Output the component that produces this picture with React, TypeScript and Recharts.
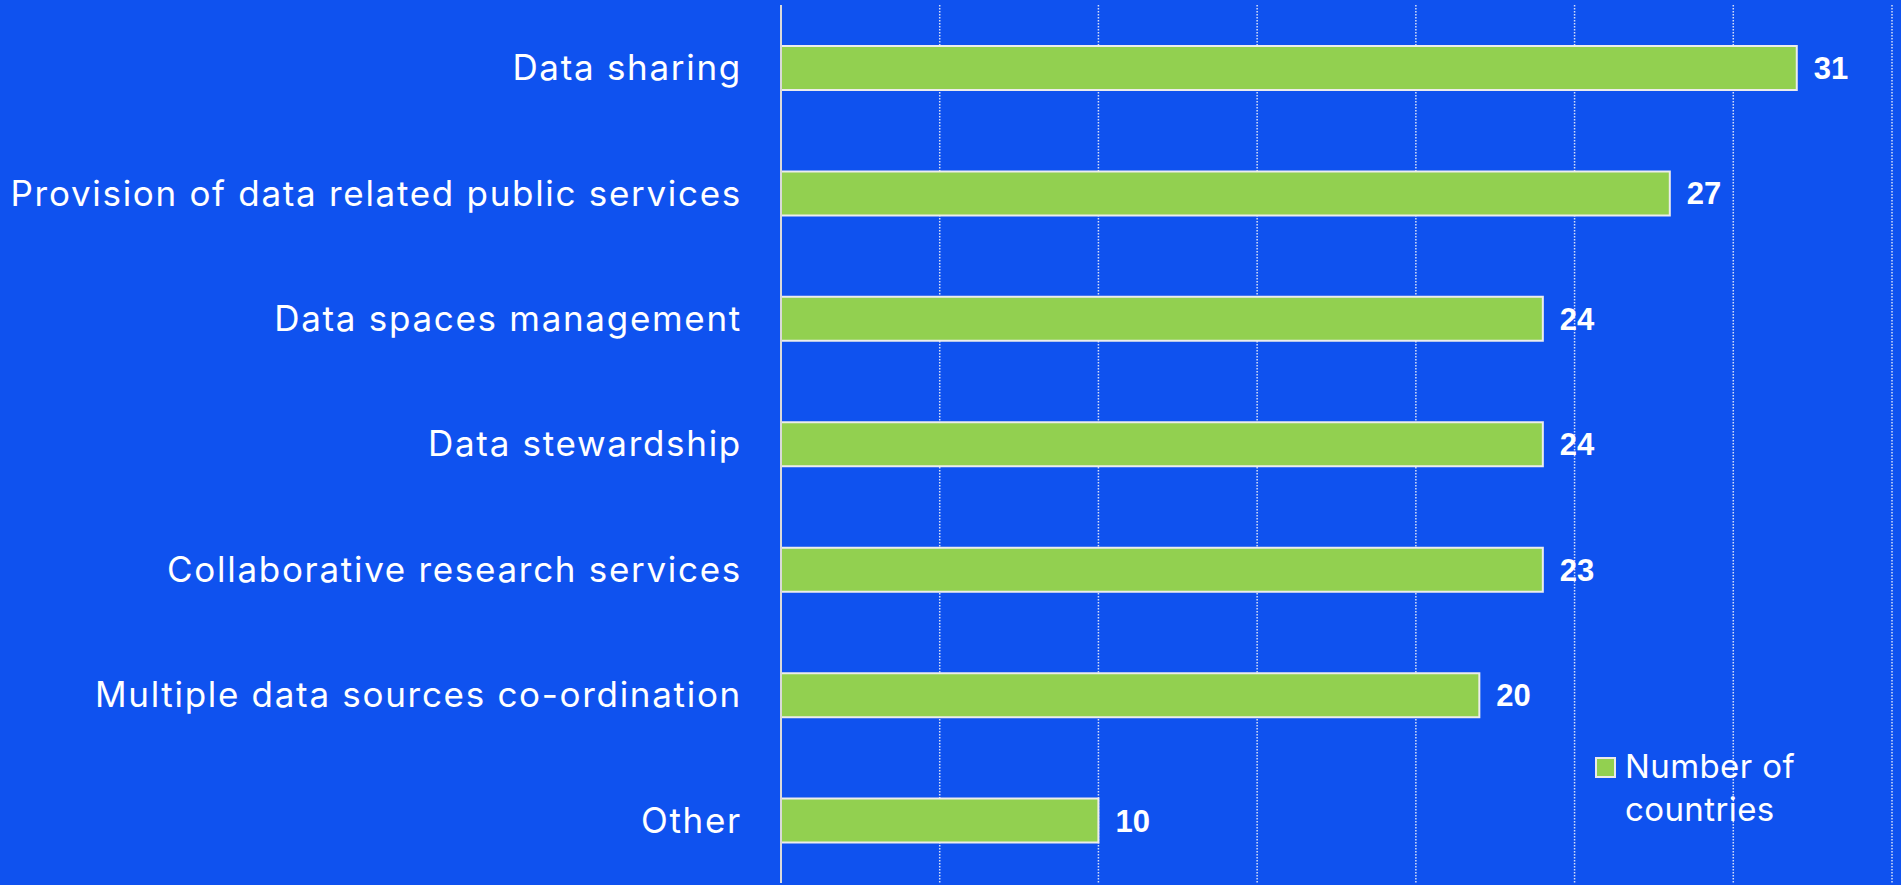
import { BarChart, Bar, XAxis, YAxis, CartesianGrid, Legend, LabelList } from 'recharts'

const categories = [
  'Data sharing',
  'Provision of data related public services',
  'Data spaces management',
  'Data stewardship',
  'Collaborative research services',
  'Multiple data sources co-ordination',
  'Other',
]
// bar lengths as drawn, and the numbers printed next to them
const barValues = [32, 28, 24, 24, 24, 22, 10]
const labelValues = [31, 27, 24, 24, 23, 20, 10]
const xTicks = [0, 5, 10, 15, 20, 25, 30, 35]

const data = categories.map((name, i) => ({ name, value: barValues[i], label: labelValues[i] }))

const BG = '#0F52EF'
const GREEN = '#92D050'
const FONT = 'Inter, Roboto, sans-serif'

function LegendBox() {
  return (
    <div
      style={{
        display: 'flex',
        alignItems: 'flex-start',
        color: '#fff',
        fontFamily: FONT,
        fontSize: 33,
        letterSpacing: 0.4,
        lineHeight: '43px',
      }}
    >
      <span
        style={{
          width: 17,
          height: 17,
          background: GREEN,
          border: '2px solid #eaeaea',
          marginTop: 12,
          marginRight: 9,
          flex: 'none',
        }}
      />
      <span>
        Number of
        <br />
        countries
      </span>
    </div>
  )
}

export default function App() {
  return (
    <div style={{ position: 'fixed', left: 0, top: 0, width: 1901, height: 885, background: BG }}>
      <BarChart
        width={1901}
        height={885}
        data={data}
        layout="vertical"
        barCategoryGap={81}
        margin={{ top: 5, right: 9, left: 0, bottom: 2 }}
      >
        <CartesianGrid horizontal={false} stroke="#d6def8" strokeDasharray="1.5 1.5" strokeWidth={1.5} />
        <XAxis type="number" domain={[0, 35]} ticks={xTicks} hide />
        <YAxis
          type="category"
          dataKey="name"
          width={781}
          tickLine={false}
          tickMargin={33}
          axisLine={{ stroke: '#d9d9d9', strokeWidth: 2 }}
          tick={{ fill: '#ffffff', fontSize: 35, fontFamily: FONT, letterSpacing: 1.7 }}
        />
        <Legend
          layout="vertical"
          align="center"
          verticalAlign="middle"
          content={() => <LegendBox />}
          wrapperStyle={{ left: 1595, top: 745, width: 300 }}
        />
        <Bar
          dataKey="value"
          name="Number of countries"
          fill={GREEN}
          stroke="#ececec"
          strokeWidth={2}
          barSize={44}
          isAnimationActive={false}
        >
          <LabelList
            dataKey="label"
            position="right"
            offset={17}
            fill="#ffffff"
            fontSize={31}
            fontWeight="bold"
            fontFamily="'Liberation Sans', Arial, sans-serif"
          />
        </Bar>
      </BarChart>
    </div>
  )
}
